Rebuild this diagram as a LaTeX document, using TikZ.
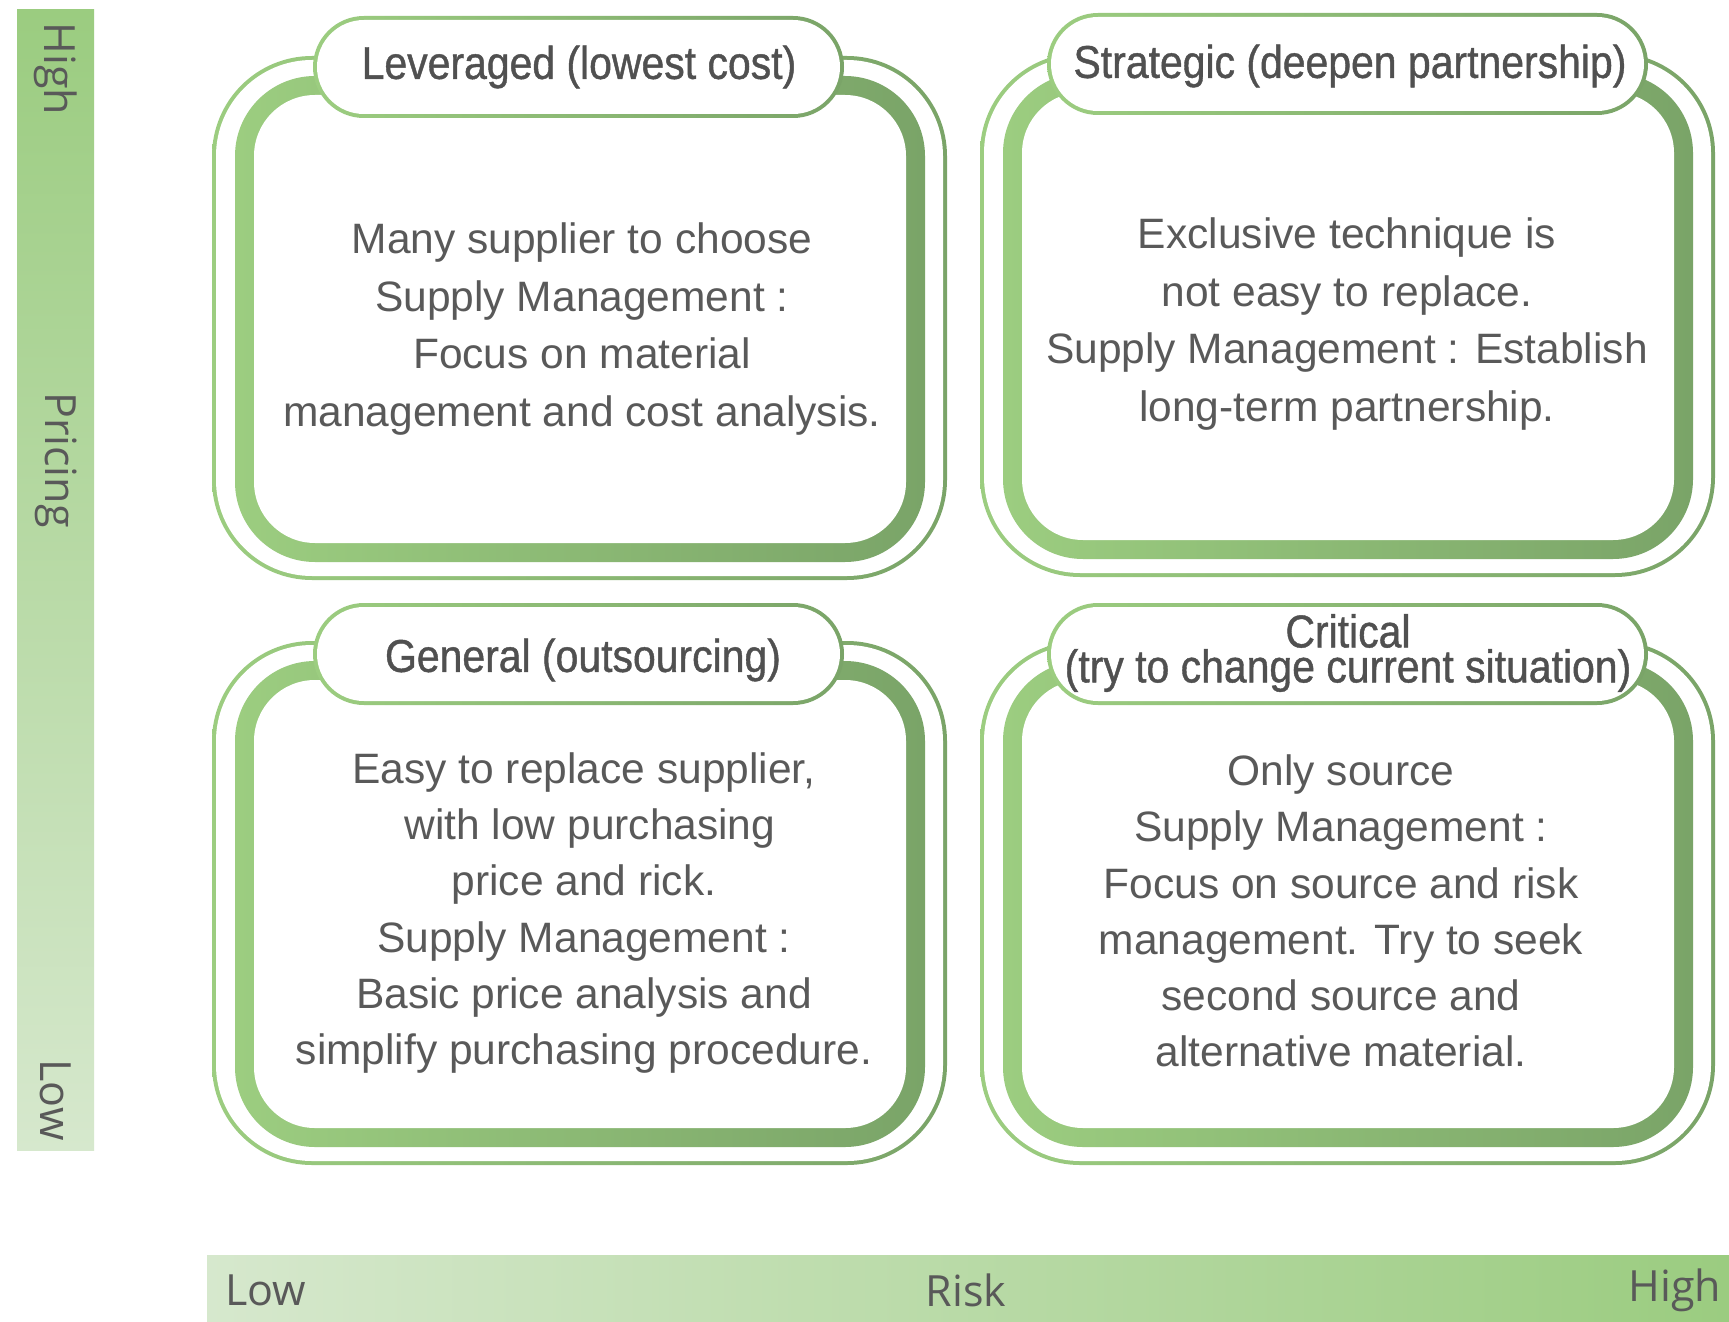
\documentclass[tikz,border=0pt]{standalone}
\usepackage{fontspec}
\setmainfont{Liberation Sans}
\newfontfamily\axisfont{Open Sans}
\newfontfamily\titlefont[FakeStretch=0.89,FakeBold=0.9]{Liberation Sans}
\definecolor{gLight}{RGB}{156,205,128}
\definecolor{gDark}{RGB}{122,164,104}
\definecolor{barDark}{RGB}{155,204,128}
\definecolor{barLight}{RGB}{214,232,205}
\definecolor{txtgray}{RGB}{89,89,89}
\definecolor{ttlgray}{RGB}{80,80,80}
\tikzset{
  ringshade/.style={left color=gLight, right color=gDark},
  bodytxt/.style={align=center, inner sep=0pt, text=txtgray,
    font={\fontsize{21.25pt}{28.75pt}\selectfont}},
  bodytxtlow/.style={bodytxt, font={\fontsize{21.25pt}{28.1pt}\selectfont}},
  titletxt/.style={align=center, inner sep=0pt, text=ttlgray,
    font={\titlefont\fontsize{23pt}{17.5pt}\selectfont}},
  axistxt/.style={inner sep=0pt, text=txtgray,
    font={\axisfont\fontsize{21.5pt}{26pt}\selectfont}}
}
\newcommand\quadbox[5]{%
  \begin{scope}[shift={(#1,#2)}]
    \shade[ringshade, rounded corners=50pt] (212,56) rectangle (947,580);
    \fill[white, rounded corners=48pt] (216,60) rectangle (943,576);
    \shade[ringshade, rounded corners=40pt] (235,76) rectangle (925,562);
    \fill[white, rounded corners=30.5pt] (254,95) rectangle (906,543);
  \end{scope}
  \shade[ringshade, rounded corners=25.5pt] (#3,#5) rectangle (#4,#5+102);
  \fill[white, rounded corners=23.5pt] (#3+4,#5+4) rectangle (#4-4,#5+98);
}
\begin{document}
\begin{tikzpicture}[x=0.5pt,y=-0.5pt]
\useasboundingbox (0,0) rectangle (1729,1322);
\fill[white] (0,0) rectangle (1729,1322);

% axis bars
\shade[top color=barDark, bottom color=barLight] (17,10) rectangle (94,1150);
\shade[left color=barLight, right color=barDark] (207,1255) rectangle (1729,1322);
\node[axistxt, rotate=-90] (phigh) at (56,69) {High};
\node[axistxt, rotate=-90] (pmid) at (56,460) {Pricing};
\node[axistxt, rotate=-90] (plow) at (56,1100) {Low};
\node[axistxt] (rlow) at (266,1290) {Low};
\node[axistxt] (rmid) at (966,1290) {Risk};
\node[axistxt] (rhigh) at (1675,1290) {High};

% panels
\quadbox{0}{0}{313}{844}{16}
\quadbox{768}{-3}{1047}{1648}{13}
\quadbox{0}{585}{313}{844}{603}
\quadbox{768}{585}{1047}{1648}{603}

% titles
\node[titletxt] (tltitle) at (579,67) {Leveraged (lowest cost)};
\node[titletxt] (trtitle) at (1350,66) {Strategic (deepen partnership)};
\node[titletxt] (bltitle) at (583,660) {General (outsourcing)};
\node[titletxt] (brtitle) at (1348,653) {Critical\\(try to change current situation)};

% bodies
\node[bodytxt] (tlbody) at (582,329) {Many supplier to choose\\Supply Management :\\Focus on material\\management and cost analysis.};
\node[bodytxt] (trbody) at (1347,324) {Exclusive technique is\\not easy to replace.\\Supply Management : Establish\\long-term partnership.};
\node[bodytxtlow] (blbody) at (584,913) {Easy to replace supplier,\\\ with low purchasing\\price and rick.\\Supply Management :\\Basic price analysis and\\simplify purchasing procedure.};
\node[bodytxtlow] (brbody) at (1341,911) {Only source\\Supply Management :\\Focus on source and risk\\management. Try to seek\\second source and\\alternative material.};
\end{tikzpicture}
\end{document}
